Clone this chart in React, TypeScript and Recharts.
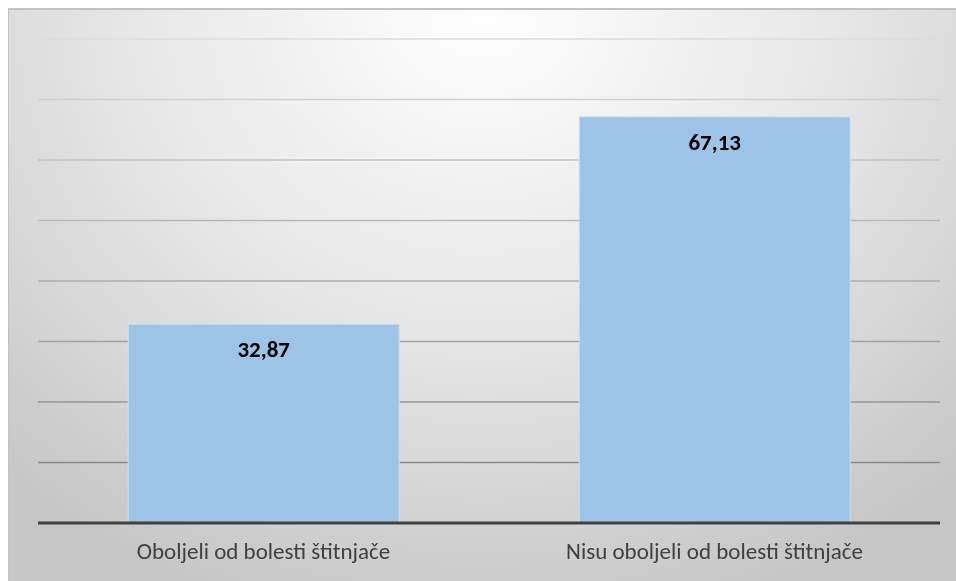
import { Bar, BarChart, CartesianGrid, LabelList, XAxis, YAxis } from 'recharts'

const categories = ['Oboljeli od bolesti štitnjače', 'Nisu oboljeli od bolesti štitnjače']
const percentages = [32.87, 67.13]
const yTicks = [0, 10, 20, 30, 40, 50, 60, 70, 80]

const data = categories.map((name, i) => ({ name, value: percentages[i] }))

const fmt = (v: any) => Number(v).toFixed(2).replace('.', ',')

export default function App() {
  return (
    <div
      style={{
        position: 'fixed',
        left: 8,
        top: 8,
        width: 948,
        height: 573,
        boxSizing: 'border-box',
        borderTop: '2px solid #c2c2c2',
        borderLeft: '1px solid #c2c2c2',
        background: 'radial-gradient(ellipse 75% 110% at 50% 0%, #ffffff 0%, #e4e4e4 55%, #c6c6c6 100%)',
        fontFamily: 'Carlito, Lato, sans-serif'
      }}
    >
      <BarChart
        width={947}
        height={571}
        data={data}
        margin={{ top: 29, right: 16, bottom: 16, left: 29 }}
        barCategoryGap='20%'
      >
        <defs>
          <linearGradient id='gridGrad' gradientUnits='userSpaceOnUse' x1='0' y1='30' x2='0' y2='520'>
            <stop offset='0%' stopColor='#dcdcdc' />
            <stop offset='100%' stopColor='#7c7c7c' />
          </linearGradient>
        </defs>
        <CartesianGrid vertical={false} stroke='url(#gridGrad)' strokeWidth={1.5} />
        <YAxis hide domain={[0, 80]} ticks={yTicks} />
        <XAxis
          dataKey='name'
          axisLine={{ stroke: '#404040', strokeWidth: 3 }}
          tickLine={false}
          tickMargin={14}
          height={42}
          tick={{ fill: '#404040', fontSize: 23 }}
        />
        <Bar dataKey='value' fill='#9dc3e6' stroke='#cfe1f2' strokeWidth={1} isAnimationActive={false}>
          <LabelList
            dataKey='value'
            position='insideTop'
            offset={17}
            formatter={fmt}
            style={{ fill: '#000000', fontSize: 23, fontWeight: 700 }}
          />
        </Bar>
      </BarChart>
    </div>
  )
}
